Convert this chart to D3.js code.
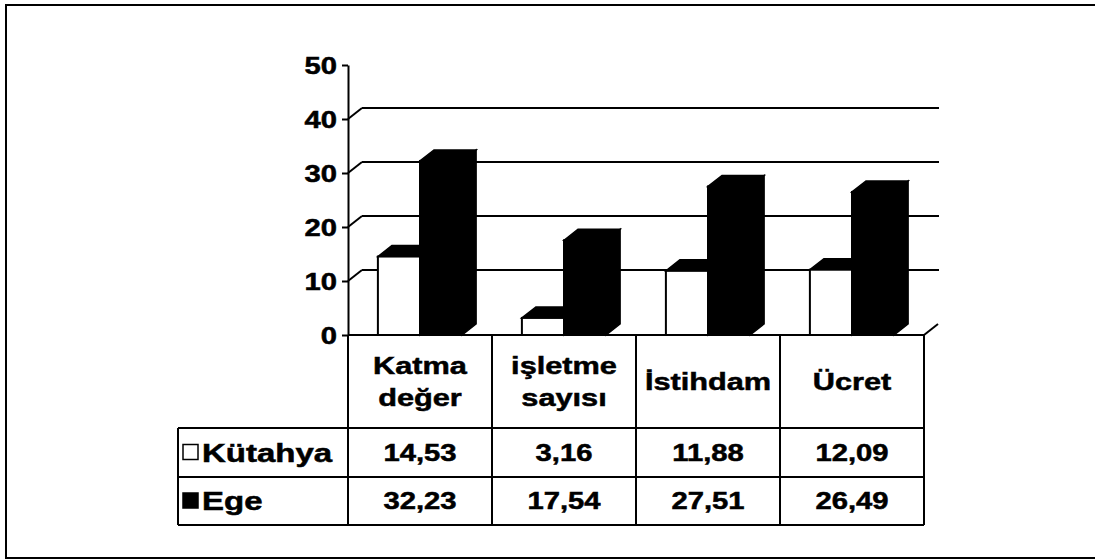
<!DOCTYPE html>
<html>
<head>
<meta charset="utf-8">
<script src="https://cdn.jsdelivr.net/npm/d3@7"></script>
<style>
  html, body { margin: 0; padding: 0; background: #fff; }
  svg text { font-family: "Liberation Sans", Arial, sans-serif; font-weight: bold; fill: #000; stroke: #000; stroke-width: 0.5px; }
</style>
</head>
<body>
<svg id="chart" width="1095" height="560"></svg>
<script>
const categories = ["Katma değer", "işletme sayısı", "İstihdam", "Ücret"];
const series = ["Kütahya", "Ege"];
const kutahya = [14.53, 3.16, 11.88, 12.09];
const ege = [32.23, 17.54, 27.51, 26.49];
const yTicks = [0, 10, 20, 30, 40, 50];

const values = { "Kütahya": kutahya, "Ege": ege };

const chartWidth = 1095;
const plotLeft = 348;
const plotRight = 924;
const plotTop = 65;
const base = 335;
const dx = 14; // 3d depth
const dy = -11;
const headerBottom = 428;
const rowLines = [428, 477, 525];
const tableLeft = 178;
const sx = 1.27; // text in the scan is stretched wide
const fontSize = 23;

const trFormat = d3.formatLocale({ decimal: ",", thousands: ".", grouping: [3], currency: ["", ""] }).format(".2f");

const chart = d3.select("#chart");

// outer frame
chart
  .append("rect")
  .attr("x", 6)
  .attr("y", 5)
  .attr("width", chartWidth + 20)
  .attr("height", 553)
  .attr("fill", "none")
  .attr("stroke", "#000")
  .attr("stroke-width", 2);

const x = d3.scaleBand().domain(categories).range([plotLeft, plotRight]);
const xs = d3
  .scaleBand()
  .domain(series)
  .range([0, x.bandwidth()])
  .paddingInner(0)
  .paddingOuter(0.71);
const y = d3.scaleLinear().domain([0, 50]).range([base, plotTop]);

const label = (parent, px, py, text, anchor, size = fontSize, stretch = sx) =>
  parent
    .append("text")
    .attr("transform", `translate(${px}, ${py}) scale(${stretch}, 1)`)
    .attr("text-anchor", anchor)
    .style("font-size", `${size}px`)
    .text(text);

// back wall gridlines with depth connectors
const grid = chart.append("g").attr("stroke", "#000").attr("stroke-width", 2);
yTicks
  .filter((t) => t > 0 && t < 50)
  .forEach((t) => {
    grid
      .append("line")
      .attr("x1", plotLeft + dx)
      .attr("x2", plotRight + dx + 1)
      .attr("y1", y(t) + dy)
      .attr("y2", y(t) + dy);
    grid
      .append("line")
      .attr("x1", plotLeft)
      .attr("x2", plotLeft + dx)
      .attr("y1", y(t))
      .attr("y2", y(t) + dy);
  });

// floor edges
grid
  .append("line")
  .attr("x1", plotLeft)
  .attr("x2", plotRight)
  .attr("y1", base)
  .attr("y2", base);
grid
  .append("line")
  .attr("x1", plotRight)
  .attr("x2", plotRight + dx)
  .attr("y1", base)
  .attr("y2", base + dy);

// bars
const colors = { "Kütahya": "#fff", "Ege": "#000" };
categories.forEach((c, i) => {
  const g = chart.append("g");
  series.forEach((s) => {
    const v = values[s][i];
    const x0 = x(c) + xs(s);
    const x1 = x0 + xs.bandwidth();
    const yv = y(v);
    g.append("polygon")
      .attr("points", [[x1, yv], [x1 + dx, yv + dy], [x1 + dx, base + dy], [x1, base]].join(" "))
      .attr("fill", "#000")
      .attr("stroke", "#000")
      .attr("stroke-width", 1.5);
    g.append("polygon")
      .attr("points", [[x0, yv], [x0 + dx, yv + dy], [x1 + dx, yv + dy], [x1, yv]].join(" "))
      .attr("fill", "#000")
      .attr("stroke", "#000")
      .attr("stroke-width", 1.5);
    g.append("rect")
      .attr("x", x0)
      .attr("y", yv)
      .attr("width", xs.bandwidth())
      .attr("height", base - yv)
      .attr("fill", colors[s])
      .attr("stroke", "#000")
      .attr("stroke-width", 2);
  });
});

// y axis
const yAxis = chart
  .append("g")
  .attr("transform", `translate(${plotLeft}, 0)`)
  .call(d3.axisLeft(y).tickValues(yTicks).tickSize(6).tickSizeOuter(0).tickPadding(0));

yAxis.select(".domain").attr("stroke-width", 2);
yAxis.selectAll(".tick line").attr("stroke-width", 2);
yAxis
  .selectAll(".tick text")
  .attr("x", null)
  .attr("dy", null)
  .attr("transform", `translate(-11, 8) scale(${sx}, 1)`)
  .attr("text-anchor", "end")
  .style("font-size", `${fontSize}px`)
  .style("font-family", null);

// data table
const table = chart.append("g").attr("stroke", "#000").attr("stroke-width", 2);
rowLines.forEach((ry) => {
  table
    .append("line")
    .attr("x1", tableLeft)
    .attr("x2", plotRight)
    .attr("y1", ry)
    .attr("y2", ry);
});
table
  .append("line")
  .attr("x1", tableLeft)
  .attr("x2", tableLeft)
  .attr("y1", headerBottom)
  .attr("y2", rowLines[2]);
[...categories.map((c) => x(c)), plotRight].forEach((vx) => {
  table
    .append("line")
    .attr("x1", vx)
    .attr("x2", vx)
    .attr("y1", base)
    .attr("y2", rowLines[2]);
});

const headerMid = (base + headerBottom) / 2;
categories.forEach((c) => {
  const cx = x(c) + x.bandwidth() / 2;
  const lines = c.split(" ");
  const lineH = 32;
  lines.forEach((ln, j) => {
    const ly = headerMid + 8 + (j - (lines.length - 1) / 2) * lineH;
    label(chart, cx, ly, ln, "middle", 24, 1.28);
  });
});

series.forEach((s, k) => {
  const rowTop = rowLines[k];
  const rowMid = (rowTop + rowLines[k + 1]) / 2;
  chart
    .append("rect")
    .attr("x", 183)
    .attr("y", rowMid - 8)
    .attr("width", 15)
    .attr("height", 15)
    .attr("fill", colors[s])
    .attr("stroke", "#000")
    .attr("stroke-width", 1.5);
  label(chart, 202, rowMid + 9, s, "start", 25, 1.32);
  categories.forEach((c, i) => {
    label(chart, x(c) + x.bandwidth() / 2, rowMid + 8, trFormat(values[s][i]), "middle");
  });
});
</script>
</body>
</html>
